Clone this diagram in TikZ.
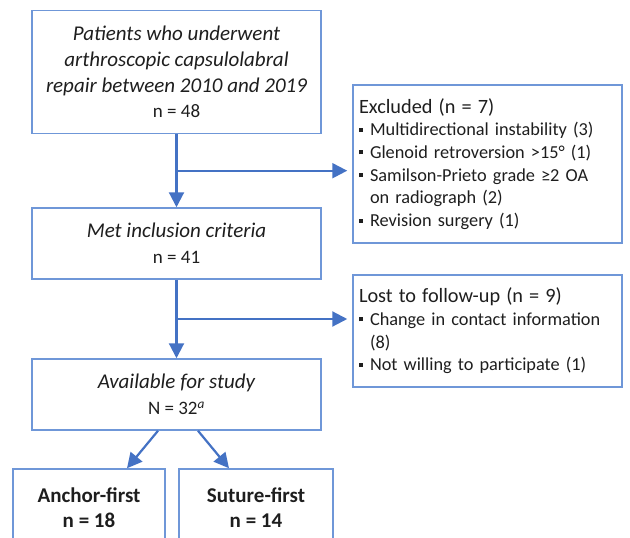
\documentclass[tikz,border=0pt]{standalone}
\usepackage{fontspec}
\setmainfont{Carlito}
\usetikzlibrary{arrows.meta,calc}
\definecolor{boxblue}{HTML}{6F97D8}
\definecolor{arrblue}{HTML}{4472C4}
\definecolor{txt}{HTML}{1E1E1E}
\def\sqb{\makebox[11pt][l]{\rule[0.22em]{0.22em}{0.22em}}}
\def\itl{\fontsize{21}{25.7}\selectfont\itshape}
\def\hdl{\fontsize{20.3}{22.7}\selectfont}
\tikzset{
	box/.style={draw=boxblue, line width=1.5pt, text=txt, align=center, inner sep=0pt},
	sidebox/.style={box, align=left, text width=257pt, inner sep=6pt, font=\fontsize{18.3}{22.7}\selectfont},
	groupbox/.style={box, minimum height=78pt, font=\fontsize{21}{25}\selectfont\bfseries},
	arr/.style={draw=arrblue, line width=2.2pt, -{Triangle[length=15pt,width=15pt]}}
}

\begin{document}
\begin{tikzpicture}[x=1pt, y=-1pt, font=\fontsize{19}{25.7}\selectfont]
		%%%%% START %%%%%
		\useasboundingbox (0, 0) rectangle (630, 538);
		
		% main column
		\node[box, minimum width=289pt, minimum height=123pt] (patients) at (176.5, 72)
			{\itl Patients who underwent\\ \itl arthroscopic capsulolabral\\ \itl repair between 2010 and 2019\\ n = 48};
		\node[box, minimum width=289pt, minimum height=71pt] (met) at (176.5, 243.5)
			{\itl Met inclusion criteria\\ n = 41};
		\node[box, minimum width=289pt, minimum height=71pt] (avail) at (176.5, 394.5)
			{\itl Available for study\\ N = 32\textsuperscript{\itshape a}};
		
		% side boxes
		\node[sidebox, minimum width=269pt, minimum height=158pt] (excl) at (487.5, 164)
			{{\hdl Excluded (n = 7)}\\
			\sqb Multidirectional instability (3)\\
			\sqb Glenoid retroversion >15° (1)\\
			\sqb Samilson-Prieto grade ≥2 OA\\
			\hspace*{11pt}on radiograph (2)\\
			\sqb Revision surgery (1)};
		\node[sidebox, minimum width=269pt, minimum height=112pt] (lost) at (487.5, 331)
			{{\hdl Lost to follow-up (n = 9)}\\
			\sqb Change in contact information\\
			\hspace*{11pt}(8)\\
			\sqb Not willing to participate (1)};
		
		% groups
		\node[groupbox, minimum width=152pt] (anchor) at (89, 508)
			{Anchor-first\\ n = 18};
		\node[groupbox, minimum width=154pt] (suture) at (256, 508)
			{Suture-first\\ n = 14};
		
		% connectors
		\coordinate (split1) at (176.5, 170.7);
		\coordinate (split2) at (176.5, 319);
		\draw[arr] (patients.south) -- (met.north);
		\draw[arr, shorten >=5pt] (split1) -- (split1 -| excl.west);
		\draw[arr] (met.south) -- (avail.north);
		\draw[arr, shorten >=5pt] (split2) -- (split2 -| lost.west);
		\draw[arr] ($(avail.south)+(-18.5, 0)$) -- ($(anchor.north)+(38, 0)$);
		\draw[arr] ($(avail.south)+(21.5, 0)$) -- ($(suture.north)+(-27, 0)$);
		
		%%%%% END %%%%%
	\end{tikzpicture}
\end{document}
